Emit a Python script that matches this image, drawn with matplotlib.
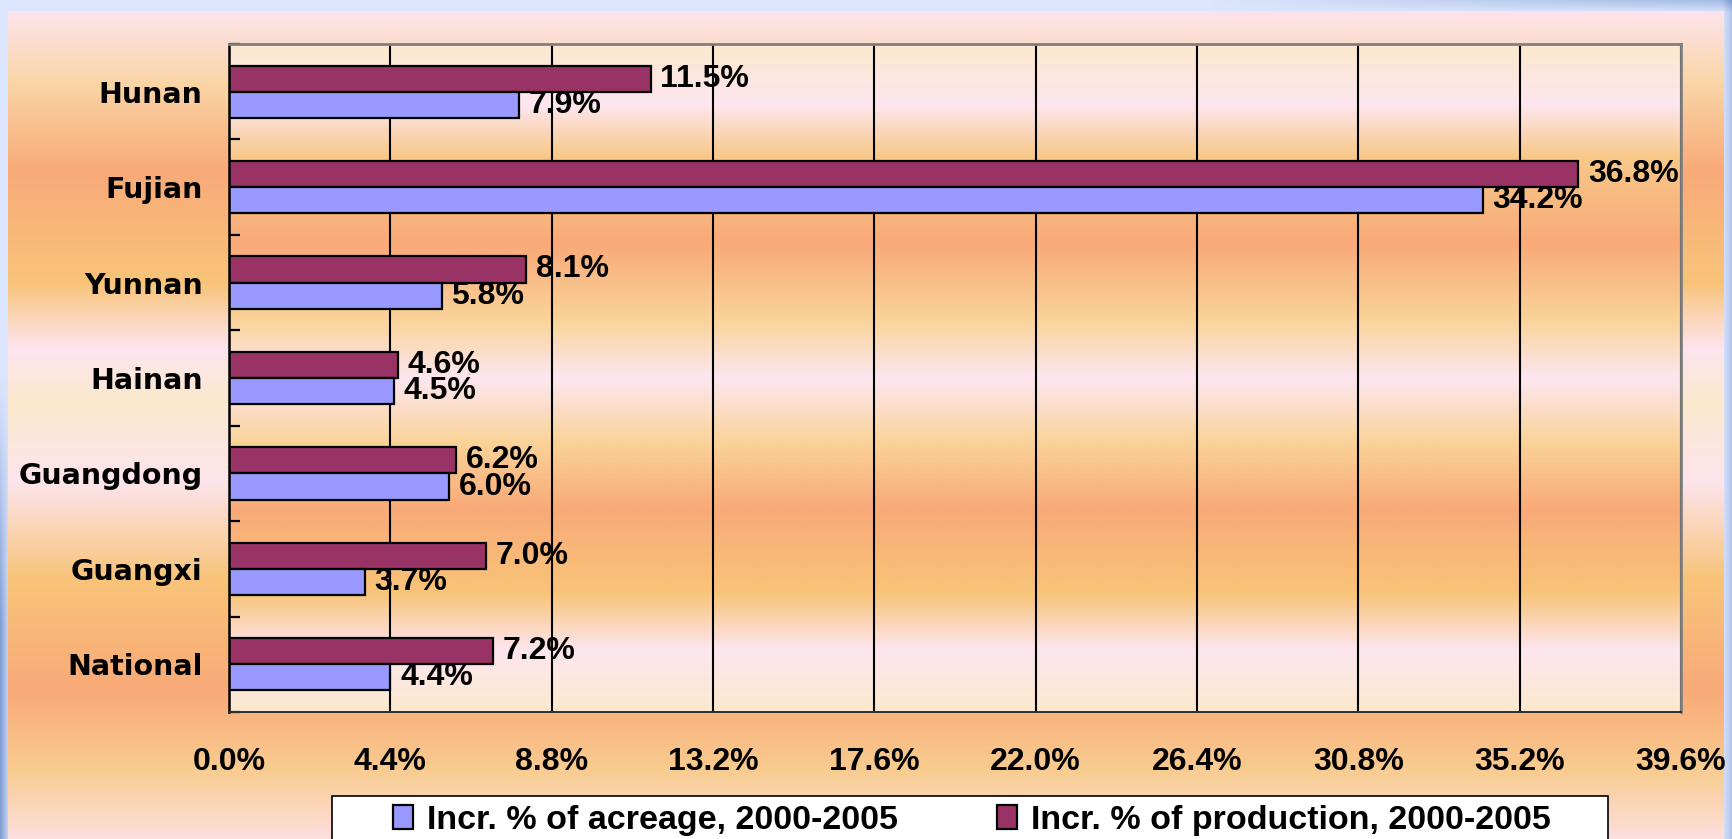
import numpy as np
import matplotlib
matplotlib.use("Agg")
import matplotlib.pyplot as plt
from matplotlib.patches import Patch, Rectangle
from matplotlib.ticker import FuncFormatter, FixedLocator

plt.rcParams['font.family'] = ['Liberation Sans', 'DejaVu Sans']
plt.rcParams['font.weight'] = 'bold'

# ---- data ----
regions = ['Hunan', 'Fujian', 'Yunnan', 'Hainan', 'Guangdong', 'Guangxi', 'National']
acreage = [7.9, 34.2, 5.8, 4.5, 6.0, 3.7, 4.4]
production = [11.5, 36.8, 8.1, 4.6, 6.2, 7.0, 7.2]
x_ticks = [0.0, 4.4, 8.8, 13.2, 17.6, 22.0, 26.4, 30.8, 35.2, 39.6]
label_acreage = 'Incr. % of acreage, 2000-2005'
label_production = 'Incr. % of production, 2000-2005'

col_acreage = '#9999ff'
col_production = '#993366'

W, H = 1733, 839
fig = plt.figure(figsize=(W / 100, H / 100), dpi=100)


def hex_rgb(h):
    h = h.lstrip('#')
    return np.array([int(h[i:i + 2], 16) / 255 for i in (0, 2, 4)])


def vgradient(stops, y0, y1):
    # vertical colour ramp sampled per pixel row
    ys = np.arange(y0, y1)
    pos = [s[0] for s in stops]
    cols = np.array([hex_rgb(s[1]) for s in stops])
    out = np.stack([np.interp(ys, pos, cols[:, c]) for c in range(3)], axis=-1)
    return out[:, None, :]


# ---- slide background ----
bg = fig.add_axes([0, 0, 1, 1], zorder=-10)
bg.set_xlim(0, W)
bg.set_ylim(H, 0)
bg.axis('off')

base = np.ones((H, W, 3)) * hex_rgb('#dbe5fd')
yy = np.linspace(0, 1, H)[:, None]
xx = np.linspace(0, 1, W)[None, :]
blue_dark = hex_rgb('#7f9dd3')
# bluish sky on the left edge and top right corner
left_mix = np.clip((yy - 0.45) / 0.3, 0, 1) * np.clip(1 - xx * W / 10, 0, 1)
right_mix = np.clip((xx - 0.7) / 0.3, 0, 1) * np.clip(1 - yy * H / 12, 0, 1) * 0.6
edge_mix = np.clip((xx * W - (W - 10)) / 10, 0, 1) * 0.5
mix = np.clip(left_mix + right_mix + edge_mix, 0, 1)[..., None]
base = base * (1 - mix) + blue_dark * mix
bg.imshow(base, extent=[0, W, H, 0], aspect='auto', interpolation='bilinear')

panel_stops = [(11, '#fde4ec'), (80, '#f9d6a8'), (171, '#f9aa78'), (283, '#f8c47a'),
               (348, '#fde5ef'), (401, '#fbe9cd'), (481, '#fde4ec'), (578, '#f8c47a'),
               (690, '#f9aa78'), (770, '#f8cc90'), (839, '#fde0e0')]
bg.imshow(vgradient(panel_stops, 11, H), extent=[8, 1724, H, 11], aspect='auto',
          interpolation='bilinear')

# ---- chart ----
ax = fig.add_axes([229 / W, 1 - 712 / H, (1681 - 229) / W, (712 - 44) / H])
ax.set_facecolor('none')
plot_stops = [(44, '#fbe9cc'), (104, '#fde6f0'), (155, '#f8c98a'), (244, '#f9aa78'),
              (320, '#f9d49a'), (378, '#fde6f0'), (440, '#f9d49a'), (508, '#f9aa78'),
              (592, '#f8c478'), (650, '#fde6f0'), (712, '#fbe9cc')]
ax.imshow(vgradient(plot_stops, 44, 712), extent=[0, 1, 0, 1], transform=ax.transAxes,
          aspect='auto', interpolation='bilinear', zorder=0.1)

y = np.arange(len(regions))
h = 0.274
bars_p = ax.barh(y - h / 2, production, height=h, color=col_production,
                 edgecolor='black', linewidth=1.6, zorder=2, label=label_production)
bars_a = ax.barh(y + h / 2, acreage, height=h, color=col_acreage,
                 edgecolor='black', linewidth=1.6, zorder=2, label=label_acreage)

fmt = '%.1f%%'
ax.bar_label(bars_p, fmt=fmt, padding=7, fontsize=23, fontweight='bold', zorder=3)
ax.bar_label(bars_a, fmt=fmt, padding=7, fontsize=23, fontweight='bold', zorder=3)

ax.set_xlim(x_ticks[0], x_ticks[-1])
ax.set_ylim(len(regions) - 0.5, -0.5)

ax.set_xticks(x_ticks)
ax.xaxis.set_major_formatter(FuncFormatter(lambda v, p: f'{v:.1f}%'))
ax.tick_params(axis='x', length=0, pad=25, labelsize=23)
ax.set_yticks(y)
ax.set_yticklabels(regions, fontfamily='DejaVu Sans', fontsize=20.5, fontweight='bold')
ax.tick_params(axis='y', length=0, pad=19)
ax.yaxis.set_minor_locator(FixedLocator(np.arange(len(regions) + 1) - 0.5))
ax.tick_params(axis='y', which='minor', direction='in', length=8, width=1.6, color='black')

ax.set_axisbelow(True)
ax.xaxis.grid(True, color='black', linewidth=1.5)

ax.spines['left'].set_color('black')
ax.spines['left'].set_linewidth(1.8)
ax.spines['bottom'].set_color('#303030')
ax.spines['bottom'].set_linewidth(1.4)
for s in ('top', 'right'):
    ax.spines[s].set_color('#808080')
    ax.spines[s].set_linewidth(2)

# ---- legend box running off the bottom edge ----
fig.patches.append(Rectangle((332 / W, -0.05), (1608 - 332) / W, 0.05 + 1 - 796 / H,
                             transform=fig.transFigure, facecolor='white',
                             edgecolor='black', linewidth=1.2, zorder=5))
handles = [Patch(facecolor=col_acreage, edgecolor='black', linewidth=1.6),
           Patch(facecolor=col_production, edgecolor='black', linewidth=1.6)]
leg = fig.legend(handles, [label_acreage, label_production], loc='center left',
                 bbox_to_anchor=(393 / W, 1 - 820 / H), ncol=2, frameon=False,
                 fontsize=24.5, handlelength=0.6, handleheight=0.7, handletextpad=0.4,
                 columnspacing=2.9, borderpad=0, borderaxespad=0)
leg.set_zorder(6)
for t in leg.get_texts():
    t.set_fontweight('bold')

fig.savefig('out.png', dpi=100)
